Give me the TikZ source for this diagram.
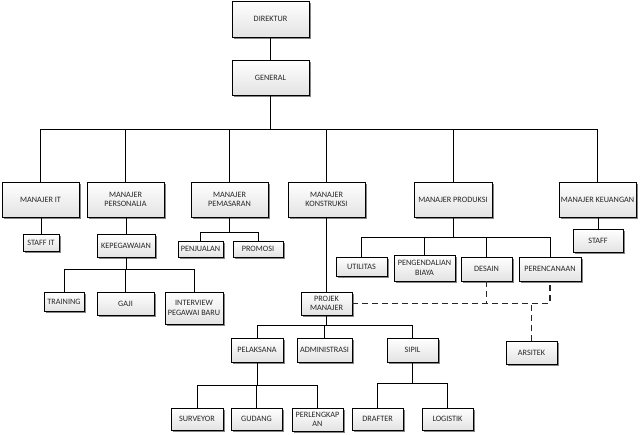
\documentclass[tikz,border=0pt]{standalone}
\usepackage{fontspec}
\setmainfont{Carlito}
\usetikzlibrary{shadows}
\tikzset{
  box/.style={draw=black, line width=0.8pt, top color=white, bottom color=gray!22,
    drop shadow={shadow xshift=1.6pt, shadow yshift=-1.6pt, fill=black!60, opacity=0.8},
    font=\fontsize{8.2}{9.4}\selectfont, text=black!85, align=center, inner sep=0pt},
  link/.style={draw=black, line width=1pt},
  dlink/.style={draw=black!85, line width=1.1pt, dash pattern=on 6pt off 4pt}
}
\begin{document}
\begin{tikzpicture}[x=1pt,y=-1pt]
\useasboundingbox (0,0) rectangle (640,435);
% level 0/1
\node[box, minimum width=77, minimum height=36] (dir) at (270.5,19) {DIREKTUR};
\node[box, minimum width=77, minimum height=35] (gen) at (270.5,77.5) {GENERAL};
% managers
\node[box, minimum width=77, minimum height=35] (mit) at (40.5,199.5) {MANAJER IT};
\node[box, minimum width=77, minimum height=35] (mper) at (125.5,199.5) {MANAJER\\PERSONALIA};
\node[box, minimum width=77, minimum height=35] (mpem) at (229.5,199.5) {MANAJER\\PEMASARAN};
\node[box, minimum width=77, minimum height=35] (mkon) at (326.5,199.5) {MANAJER\\KONSTRUKSI};
\node[box, minimum width=78, minimum height=35] (mpro) at (453,199.5) {MANAJER PRODUKSI};
\node[box, minimum width=77, minimum height=35] (mkeu) at (597.5,199.5) {MANAJER KEUANGAN};
% level 3
\node[box, minimum width=36, minimum height=17] (sit) at (41,242.5) {STAFF IT};
\node[box, minimum width=58, minimum height=23] (kep) at (126,245.5) {KEPEGAWAIAN};
\node[box, minimum width=45, minimum height=16] (pen) at (200.5,249) {PENJUALAN};
\node[box, minimum width=50, minimum height=16] (pro) at (258,249) {PROMOSI};
\node[box, minimum width=50, minimum height=23] (stf) at (598,240.5) {STAFF};
\node[box, minimum width=51, minimum height=19] (uti) at (361.5,266.5) {UTILITAS};
\node[box, minimum width=61, minimum height=26] (peb) at (424.5,268) {PENGENDALIAN\\BIAYA};
\node[box, minimum width=51, minimum height=24] (des) at (486.5,269) {DESAIN};
\node[box, minimum width=62, minimum height=24] (per) at (550,269) {PERENCANAAN};
\node[box, minimum width=51, minimum height=23] (pm) at (326.5,303.5) {PROJEK\\MANAJER};
\node[box, minimum width=51, minimum height=23] (ars) at (531.5,352.5) {ARSITEK};
% kepegawaian children
\node[box, minimum width=40, minimum height=19] (tra) at (64,301.5) {TRAINING};
\node[box, minimum width=57, minimum height=23] (gaj) at (125.5,303.5) {GAJI};
\node[box, minimum width=58, minimum height=32] (int) at (194,308) {INTERVIEW\\PEGAWAI BARU};
% projek children
\node[box, minimum width=52, minimum height=24] (pel) at (257,350) {PELAKSANA};
\node[box, minimum width=55, minimum height=24] (adm) at (324.5,350) {ADMINISTRASI};
\node[box, minimum width=51, minimum height=24] (sip) at (412.5,350) {SIPIL};
% bottom
\node[box, minimum width=52, minimum height=22] (sur) at (197,419) {SURVEYOR};
\node[box, minimum width=51, minimum height=22] (gud) at (256.5,419) {GUDANG};
\node[box, minimum width=51, minimum height=23] (prl) at (317.5,419.5) {PERLENGKAP\\AN};
\node[box, minimum width=51, minimum height=22] (dra) at (377.5,419) {DRAFTER};
\node[box, minimum width=51, minimum height=22] (log) at (447.5,419) {LOGISTIK};
% connectors
\draw[link] (dir.south) -- (gen.north);
\foreach \c in {mit,mper,mpem,mkon,mpro,mkeu}
  \draw[link] (gen.south) -- ++(0,34) -| (\c.north);
\draw[link] (mit.south) -| (sit.north);
\draw[link] (mper.south) -| (kep.north);
\draw[link] (mkeu.south) -| (stf.north);
\foreach \c in {pen,pro}
  \draw[link] (mpem.south) -- ++(0,15) -| (\c.north);
\foreach \c in {uti,peb,des,per}
  \draw[link] (mpro.south) -- ++(0,20) -| (\c.north);
\draw[link] (mkon.south) -- (pm.north);
\foreach \c in {tra,gaj,int}
  \draw[link] (kep.south) -- ++(0,12) -| (\c.north);
\foreach \c in {pel,adm,sip}
  \draw[link] (pm.south) -- ++(0,10) -| (\c.north);
\foreach \c in {sur,gud,prl}
  \draw[link] (pel.south) -- ++(0,23) -| (\c.north);
\foreach \c in {dra,log}
  \draw[link] (sip.south) -- ++(0,21) -| (\c.north);
% dashed links
\draw[dlink] (pm.east) -- (pm.east -| per.south) -- (per.south);
\draw[dlink] (des.south) -- (des.south |- pm.east);
\draw[dlink] (ars.north) -- (ars.north |- pm.east);
\end{tikzpicture}
\end{document}
